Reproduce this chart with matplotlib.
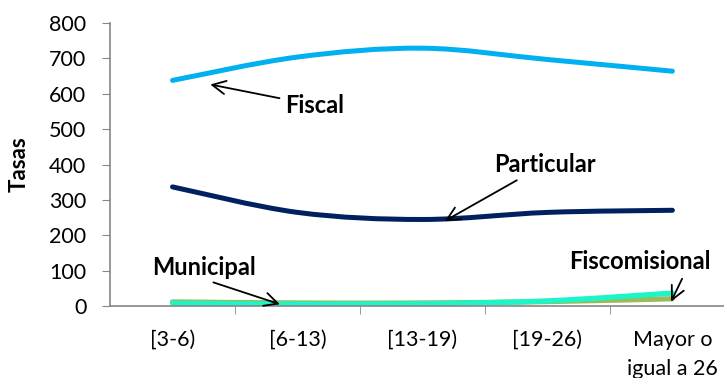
import numpy as np
import matplotlib
matplotlib.use('Agg')
import matplotlib.pyplot as plt
from matplotlib.path import Path
from matplotlib.patches import PathPatch

plt.rcParams['font.family'] = ['Lato', 'DejaVu Sans']

categorias = ['[3-6)', '[6-13)', '[13-19)', '[19-26)', 'Mayor o\nigual a 26']
fiscal = [638, 704, 729, 697, 664]
particular = [337, 265, 245, 265, 271]
fiscomisional = [12, 9, 9, 13, 21]
municipal = [8, 6, 7, 15, 37]


def suave(ax, x, y, color, lw):
    # curva suavizada tipo Excel (Catmull-Rom -> Bezier)
    x = np.asarray(x, float)
    y = np.asarray(y, float)
    pts = np.column_stack([x, y])
    n = len(pts)
    verts = [pts[0]]
    codes = [Path.MOVETO]
    for i in range(n - 1):
        p0 = pts[max(i - 1, 0)]
        p1 = pts[i]
        p2 = pts[i + 1]
        p3 = pts[min(i + 2, n - 1)]
        c1 = p1 + (p2 - p0) / 6.0
        c2 = p2 - (p3 - p1) / 6.0
        verts += [c1, c2, p2]
        codes += [Path.CURVE4] * 3
    patch = PathPatch(Path(verts, codes), facecolor='none', edgecolor=color,
                      lw=lw, capstyle='round', joinstyle='round')
    ax.add_patch(patch)


fig = plt.figure(figsize=(7.24, 3.78), dpi=100)
ax = fig.add_axes([0.152, 0.19, 0.863, 0.749])

x = np.arange(len(categorias))
suave(ax, x, fiscomisional, '#9BBB59', 3.8)
suave(ax, x, municipal, '#1CF5C8', 3.8)
suave(ax, x, particular, '#002060', 3.6)
suave(ax, x, fiscal, '#00B0F0', 3.6)

ax.set_xlim(-0.5, 4.5)
ax.set_ylim(0, 800)
ax.set_yticks(range(0, 801, 100))
ax.set_xticks(x)
ax.set_xticklabels(categorias, linespacing=1.6)
ax.set_xticks(np.arange(0.5, 4.6, 1), minor=True)
ax.tick_params(axis='x', which='major', length=0, labelsize=15.5, pad=17)
ax.tick_params(axis='x', which='minor', length=6, color='#868686')
ax.tick_params(axis='y', length=6, color='#868686', labelsize=15.5, pad=11)
ax.set_ylabel('Tasas', fontsize=16, fontweight='bold')
ax.yaxis.set_label_coords(-0.128, 0.5)

for s in ['top', 'right']:
    ax.spines[s].set_visible(False)
for s in ['left', 'bottom']:
    ax.spines[s].set_color('#868686')
    ax.spines[s].set_linewidth(1.2)

flecha = dict(arrowstyle='->', color='black', lw=1.3, mutation_scale=24)
tf = dict(fontsize=17, fontweight='bold', va='center', ha='left')
ax.annotate('Fiscal', xy=(0.28, 628), xytext=(0.9, 568), arrowprops=flecha, **tf)
ax.annotate('Particular', xy=(2.16, 237), xytext=(2.57, 400), arrowprops=flecha, **tf)
ax.annotate('Municipal', xy=(0.88, 3), xytext=(-0.16, 110),
            arrowprops=dict(flecha, relpos=(0.48, 0)), **tf)
ax.annotate('Fiscomisional', xy=(3.98, 6), xytext=(3.17, 125),
            arrowprops=dict(flecha, relpos=(0.82, 0)), **tf)

fig.savefig('out.png', dpi=100)
